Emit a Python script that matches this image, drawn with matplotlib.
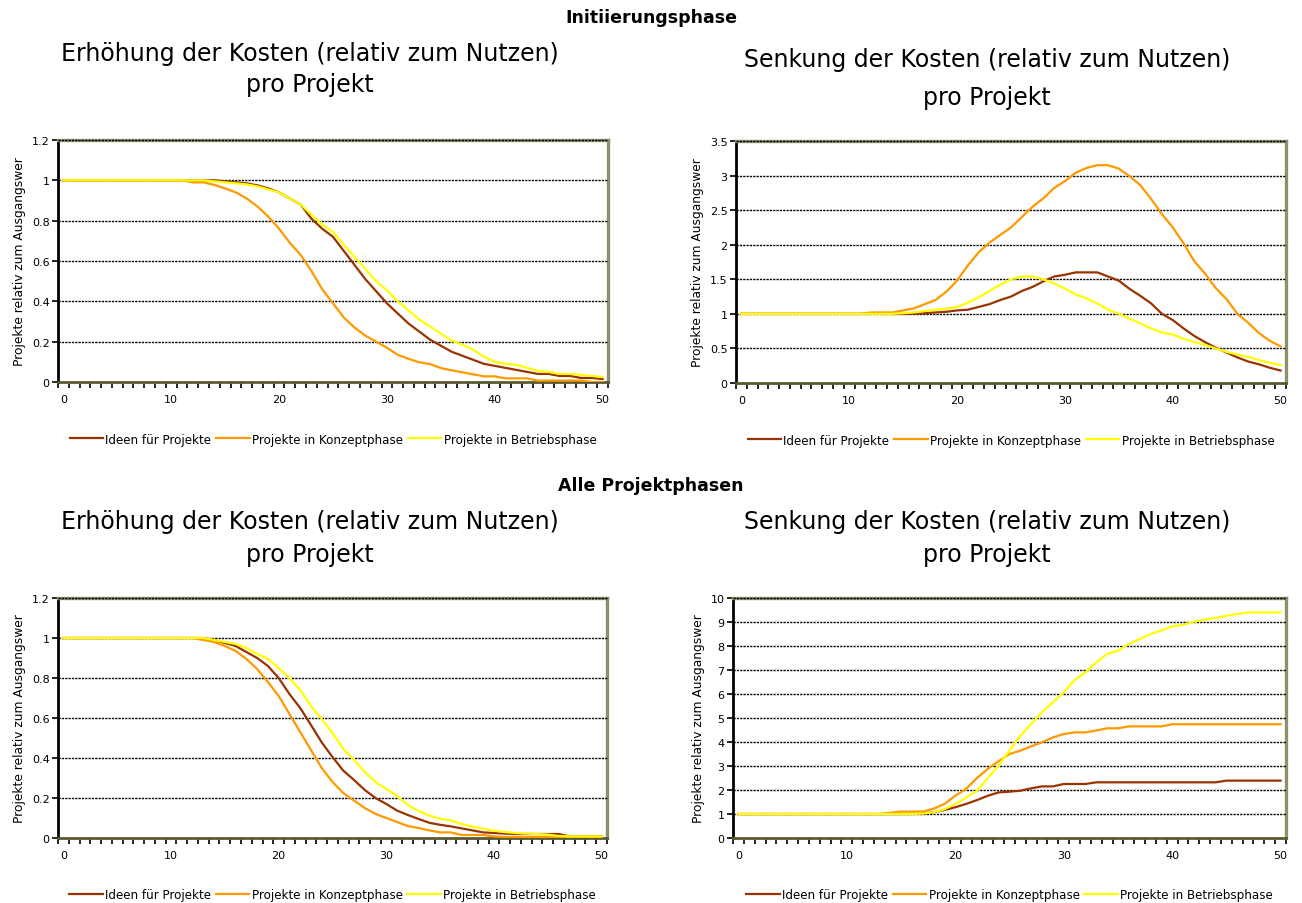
import matplotlib
matplotlib.use("Agg")
import matplotlib.pyplot as plt
import numpy as np

plt.rcParams['font.family'] = ['DejaVu Sans']

x = list(range(51))
series_names = ["Ideen für Projekte", "Projekte in Konzeptphase", "Projekte in Betriebsphase"]
colors = ["#993300", "#FF9900", "#FFFF00"]

# Panel 1: Initiierungsphase - Erhöhung
p1_ideen = [1]*15 + [0.995, 0.99, 0.985, 0.975, 0.96, 0.94, 0.91, 0.88, 0.81, 0.76, 0.72, 0.65, 0.58,
            0.51, 0.45, 0.39, 0.34, 0.29, 0.25, 0.21, 0.18, 0.15, 0.13, 0.11, 0.09, 0.08, 0.07, 0.06,
            0.05, 0.04, 0.04, 0.03, 0.03, 0.02, 0.02, 0.015]
p1_konzept = [1]*12 + [0.99, 0.99, 0.977, 0.96, 0.94, 0.91, 0.87, 0.82, 0.76, 0.69, 0.63, 0.55, 0.46,
              0.39, 0.32, 0.27, 0.23, 0.20, 0.17, 0.135, 0.115, 0.098, 0.089, 0.069, 0.058, 0.048,
              0.038, 0.028, 0.028, 0.018, 0.018, 0.018, 0.007, 0.007, 0.007, 0.007, 0.007, 0.0, 0.0]
p1_betrieb = [1]*14 + [0.995, 0.99, 0.985, 0.98, 0.97, 0.955, 0.94, 0.91, 0.88, 0.83, 0.78, 0.745,
              0.68, 0.62, 0.56, 0.50, 0.455, 0.40, 0.355, 0.31, 0.275, 0.24, 0.205, 0.185, 0.16,
              0.125, 0.10, 0.09, 0.085, 0.07, 0.055, 0.05, 0.04, 0.04, 0.035, 0.03, 0.025]

# Panel 2: Initiierungsphase - Senkung
p2_ideen = [1.0]*17 + [1.01, 1.02, 1.03, 1.05, 1.06, 1.10, 1.14, 1.2, 1.25, 1.33, 1.39, 1.47, 1.54,
            1.565, 1.6, 1.6, 1.6, 1.54, 1.48, 1.36, 1.26, 1.15, 1.0, 0.91, 0.79, 0.68, 0.59, 0.51,
            0.44, 0.37, 0.31, 0.27, 0.22, 0.18]
p2_konzept = [1.0]*12 + [1.02, 1.02, 1.02, 1.05, 1.08, 1.14, 1.2, 1.32, 1.48, 1.7, 1.89, 2.03, 2.14,
              2.25, 2.4, 2.55, 2.67, 2.82, 2.92, 3.04, 3.11, 3.15, 3.15, 3.1, 2.99, 2.86, 2.66,
              2.44, 2.25, 2.02, 1.76, 1.58, 1.37, 1.21, 1.0, 0.87, 0.72, 0.61, 0.53]
p2_betrieb = [1.0]*15 + [1.01, 1.02, 1.04, 1.06, 1.075, 1.10, 1.16, 1.24, 1.33, 1.42, 1.5, 1.54,
              1.54, 1.5, 1.44, 1.365, 1.28, 1.225, 1.15, 1.06, 1.0, 0.93, 0.86, 0.79, 0.73, 0.70,
              0.64, 0.59, 0.55, 0.50, 0.45, 0.41, 0.38, 0.33, 0.29, 0.26]

# Panel 3: Alle Projektphasen - Erhöhung
p3_ideen = [1.0]*14 + [0.99, 0.975, 0.96, 0.93, 0.90, 0.86, 0.80, 0.72, 0.65, 0.565, 0.478, 0.405,
            0.337, 0.29, 0.24, 0.2, 0.17, 0.137, 0.115, 0.095, 0.076, 0.066, 0.058, 0.048, 0.038,
            0.028, 0.025, 0.022, 0.02, 0.02, 0.02, 0.02, 0.02, 0.008, 0.008, 0.008, 0.008]
p3_konzept = [1.0]*13 + [0.99, 0.98, 0.96, 0.935, 0.895, 0.845, 0.78, 0.71, 0.62, 0.53, 0.44, 0.35,
              0.28, 0.225, 0.187, 0.15, 0.12, 0.10, 0.08, 0.06, 0.05, 0.038, 0.028, 0.028, 0.015,
              0.015, 0.015, 0.008, 0.005, 0.005, 0.005, 0.005, 0.005, 0.005, 0.005, 0.005, 0.005,
              0.005]
p3_betrieb = [1.0]*14 + [0.99, 0.98, 0.97, 0.95, 0.92, 0.895, 0.85, 0.80, 0.74, 0.66, 0.595, 0.525,
              0.445, 0.39, 0.33, 0.28, 0.245, 0.21, 0.165, 0.135, 0.112, 0.096, 0.088, 0.07, 0.057,
              0.046, 0.036, 0.03, 0.025, 0.022, 0.02, 0.017, 0.01, 0.008, 0.008, 0.008, 0.008]

# Panel 4: Alle Projektphasen - Senkung
p4_ideen = [1.0]*17 + [1.02, 1.07, 1.17, 1.28, 1.42, 1.58, 1.76, 1.9, 1.93, 1.97, 2.07, 2.15, 2.15,
            2.25, 2.25, 2.25] + [2.32]*12 + [2.39]*6
p4_konzept = [1.0]*14 + [1.05, 1.1, 1.1, 1.1, 1.22, 1.42, 1.76, 2.05, 2.5, 2.88, 3.2, 3.5, 3.64,
              3.82, 3.99, 4.19, 4.33, 4.40, 4.40, 4.48, 4.57, 4.57, 4.65, 4.65, 4.65, 4.65] + [4.74]*11
p4_betrieb = [1.0]*17 + [1.02, 1.07, 1.2, 1.42, 1.68, 1.97, 2.5, 3.02, 3.65, 4.26, 4.75, 5.24, 5.65,
              6.07, 6.58, 6.9, 7.32, 7.67, 7.8, 8.08, 8.29, 8.5, 8.64, 8.82, 8.88, 9.01, 9.1, 9.17,
              9.26, 9.33, 9.4, 9.4, 9.4, 9.4]

W, H = 1302, 904
fig = plt.figure(figsize=(W/100, H/100), dpi=100)

def px_axes(x0, y0, x1, y1):
    return fig.add_axes([x0/W, 1 - y1/H, (x1-x0)/W, (y1-y0)/H])

panels = [
    dict(rect=(58, 141, 608, 383), data=[p1_ideen, p1_konzept, p1_betrieb], ymax=1.2, ystep=0.2,
         yt=["0", "0.2", "0.4", "0.6", "0.8", "1", "1.2"]),
    dict(rect=(736, 142, 1286, 384), data=[p2_ideen, p2_konzept, p2_betrieb], ymax=3.5, ystep=0.5,
         yt=["0", "0.5", "1", "1.5", "2", "2.5", "3", "3.5"]),
    dict(rect=(58, 599, 607, 839), data=[p3_ideen, p3_konzept, p3_betrieb], ymax=1.2, ystep=0.2,
         yt=["0", "0.2", "0.4", "0.6", "0.8", "1", "1.2"]),
    dict(rect=(733, 599, 1286, 839), data=[p4_ideen, p4_konzept, p4_betrieb], ymax=10, ystep=1,
         yt=[str(i) for i in range(11)]),
]

border = "#8f8f6e"
for p in panels:
    ax = px_axes(*p["rect"])
    yticks = np.arange(0, p["ymax"] + p["ystep"]/2, p["ystep"])
    for yv in yticks[1:]:
        ax.axhline(yv, color="black", lw=1.0, ls=(0, (1.6, 0.8)), zorder=2.6, clip_on=False)
    for d, c, n in zip(p["data"], colors, series_names):
        ax.plot(x, d, color=c, lw=1.6, label=n, zorder=3, solid_joinstyle='miter')
    ax.set_xlim(-0.5, 50.5)
    ax.set_ylim(0, p["ymax"])
    ax.set_yticks(yticks)
    ax.set_yticklabels(p["yt"])
    ax.set_xticks([0, 10, 20, 30, 40, 50])
    ax.set_xticks(np.arange(-0.5, 51, 1), minor=True)
    ax.tick_params(axis='x', which='major', length=0, labelsize=8, pad=9)
    ax.tick_params(axis='x', which='minor', length=4, width=1.2, direction='out', color='black')
    ax.tick_params(axis='y', which='major', length=4, width=1.2, direction='out', labelsize=8, pad=2)
    ax.spines['left'].set_linewidth(2)
    ax.spines['left'].set_color('black')
    ax.spines['bottom'].set_linewidth(2)
    ax.spines['bottom'].set_color('#5a5a30')
    ax.spines['top'].set_linewidth(2.4)
    ax.spines['top'].set_color(border)
    ax.spines['right'].set_linewidth(2.4)
    ax.spines['right'].set_color(border)
    ax.set_ylabel("Projekte relativ zum Ausgangswer", fontsize=8.8, labelpad=4)
    ax.legend(loc='upper center', bbox_to_anchor=(0.5, -0.165), ncol=3, frameon=False,
              fontsize=8.6, handlelength=2.8, handletextpad=0.2, columnspacing=0.4)

fig.text(651/W, 1 - 18/H, "Initiierungsphase", ha='center', va='center', fontsize=12.5, fontweight='bold')
fig.text(651/W, 1 - 486/H, "Alle Projektphasen", ha='center', va='center', fontsize=12.5, fontweight='bold')

title1 = "Erhöhung der Kosten (relativ zum Nutzen)"
title2 = "Senkung der Kosten (relativ zum Nutzen)"
fs = 17
fig.text(310/W, 1 - 54/H, title1, ha='center', va='center', fontsize=fs)
fig.text(310/W, 1 - 85/H, "pro Projekt", ha='center', va='center', fontsize=fs)
fig.text(987/W, 1 - 60/H, title2, ha='center', va='center', fontsize=fs)
fig.text(987/W, 1 - 98/H, "pro Projekt", ha='center', va='center', fontsize=fs)
fig.text(310/W, 1 - 522/H, title1, ha='center', va='center', fontsize=fs)
fig.text(310/W, 1 - 555/H, "pro Projekt", ha='center', va='center', fontsize=fs)
fig.text(987/W, 1 - 522/H, title2, ha='center', va='center', fontsize=fs)
fig.text(987/W, 1 - 555/H, "pro Projekt", ha='center', va='center', fontsize=fs)

fig.savefig("out.png", dpi=100)
